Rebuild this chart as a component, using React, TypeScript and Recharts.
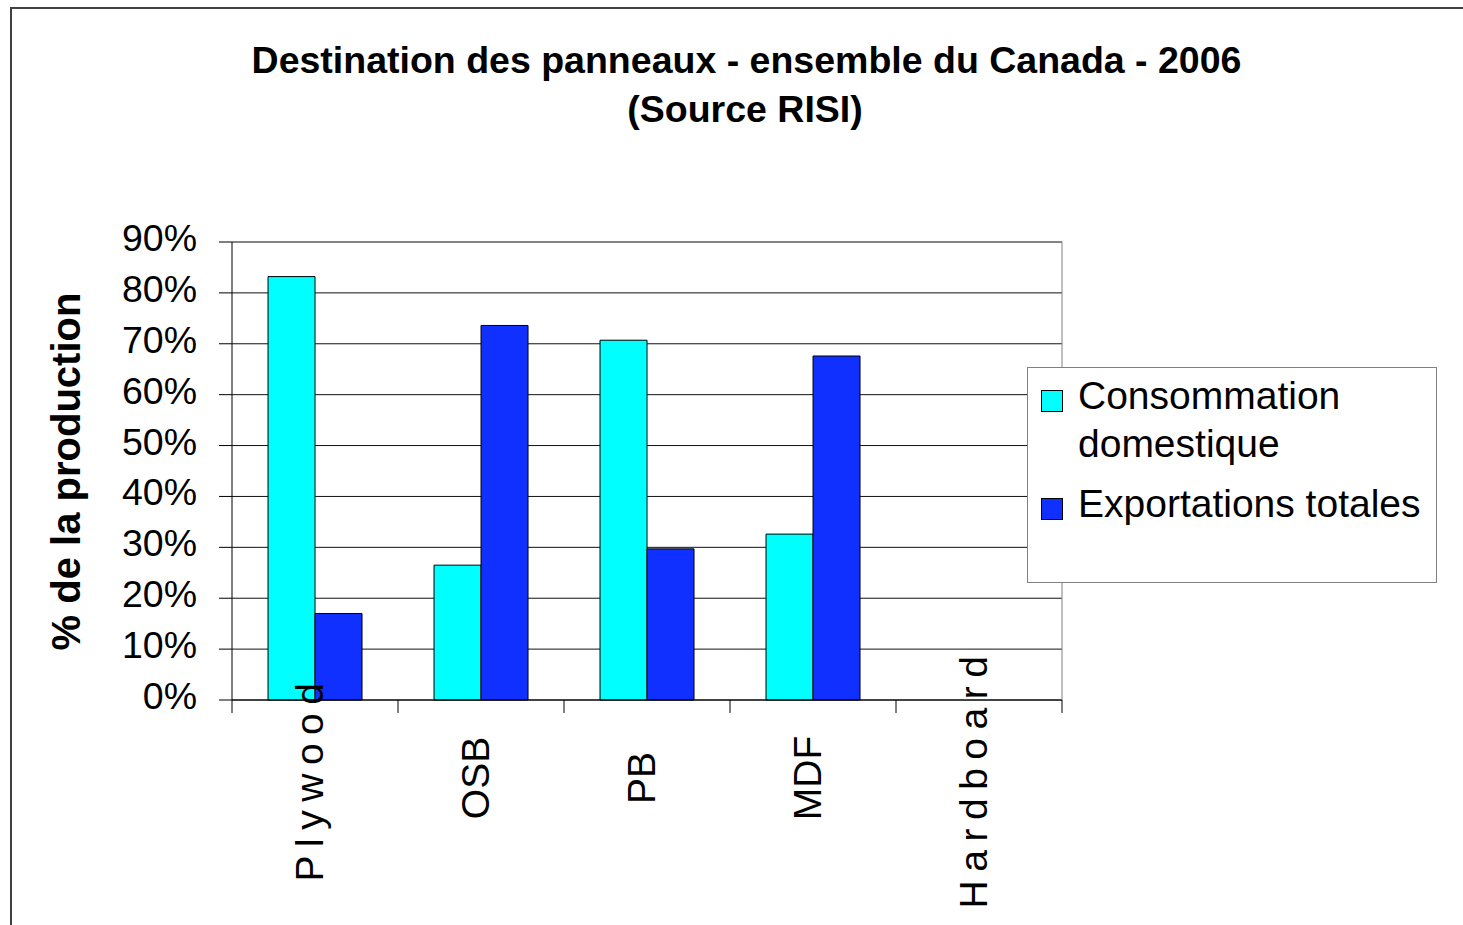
import { BarChart, Bar, XAxis, YAxis, CartesianGrid, Legend, ReferenceLine } from "recharts";

const FONT = "'Liberation Sans', Arial, sans-serif";

const CATEGORIES = ["Plywood", "OSB", "PB", "MDF", "Hardboard"];
const DOMESTIC = [0.832, 0.265, 0.707, 0.326, null];
const EXPORTS = [0.17, 0.736, 0.297, 0.676, null];
const SERIES = ["Consommation domestique", "Exportations totales"];
const LEGEND_LINES = [["Consommation", "domestique"], ["Exportations totales"]];
const Y_TICKS = [0, 0.1, 0.2, 0.3, 0.4, 0.5, 0.6, 0.7, 0.8, 0.9];
// labels that Excel drew with wide letter spacing
const SPACED = ["Plywood", "Hardboard"];

const data = CATEGORIES.map((c, i) => ({ name: c, dom: DOMESTIC[i], exp: EXPORTS[i] }));

const YTick = ({ x, y, payload }: any) => (
  <text x={x} y={y} dy={9} textAnchor="end" fontSize={37.5} fill="#000" fontFamily={FONT}>
    {Math.round(payload.value * 100)}%
  </text>
);

// category label + tick marks on the category boundaries (Excel style)
const XTick = ({ x, y, payload, index }: any) => {
  const half = payload.offset || 83;
  const last = index === CATEGORIES.length - 1;
  return (
    <g>
      <line x1={x - half} x2={x - half} y1={y} y2={y + 13} stroke="#000" />
      {last && <line x1={x + half} x2={x + half} y1={y} y2={y + 13} stroke="#000" />}
      <text
        transform={`translate(${x + 8}, ${y + 78}) rotate(-90)`}
        textAnchor="middle"
        fontSize={39}
        fill="#000"
        fontFamily={FONT}
        letterSpacing={SPACED.includes(payload.value) ? 8.5 : 0}
      >
        {payload.value}
      </text>
    </g>
  );
};

const LegendBox = ({ payload }: any) => {
  const items = payload || [];
  return (
    <svg width={410} height={216} style={{ display: "block", fontFamily: FONT }}>
      <rect x={0.5} y={0.5} width={409} height={215} fill="#fff" stroke="#808080" />
      {items.map((p: any, i: number) => {
        const top = i === 0 ? 23 : 131;
        const lines = LEGEND_LINES[i] || [p.value];
        return (
          <g key={i}>
            <rect x={14.5} y={top + 0.5} width={21} height={21} fill={p.color} stroke="#000" />
            {lines.map((l: string, j: number) => (
              <text key={j} x={51} y={top + 19 + j * 48} fontSize={39} fill="#000">{l}</text>
            ))}
          </g>
        );
      })}
    </svg>
  );
};

export default function App() {
  return (
    <div style={{ position: "absolute", left: 0, top: 0, width: 1463, height: 925, background: "#fff", overflow: "hidden" }}>
      <div style={{ position: "absolute", left: 10, top: 7, width: 1470, height: 930, borderLeft: "2px solid #404040", borderTop: "2px solid #404040" }} />
      <BarChart
        width={1463}
        height={925}
        data={data}
        margin={{ top: 242, right: 400, bottom: 224, left: 231 }}
        barCategoryGap="21.7%"
        barGap={0}
        style={{ position: "absolute", left: 0, top: 0 }}
      >
        <CartesianGrid vertical={false} stroke="#111" />
        <ReferenceLine y={0.9} stroke="#808080" />
        <XAxis
          dataKey="name"
          height={1}
          tickLine={false}
          tickSize={0}
          tickMargin={0}
          axisLine={{ stroke: "#000" }}
          tick={<XTick />}
          interval={0}
        />
        <YAxis
          width={1}
          domain={[0, 0.9]}
          ticks={Y_TICKS}
          tickSize={13}
          tickMargin={22}
          axisLine={{ stroke: "#000" }}
          tickLine={{ stroke: "#000" }}
          tick={<YTick />}
          interval={0}
        />
        <YAxis
          yAxisId="right"
          orientation="right"
          width={1}
          tick={false}
          tickLine={false}
          axisLine={{ stroke: "#808080" }}
        />
        <Bar dataKey="dom" name={SERIES[0]} fill="#00FFFF" stroke="#000" strokeWidth={1} isAnimationActive={false} />
        <Bar dataKey="exp" name={SERIES[1]} fill="#1030FF" stroke="#000" strokeWidth={1} isAnimationActive={false} />
        <Legend
          layout="vertical"
          align="center"
          verticalAlign="middle"
          content={<LegendBox />}
          wrapperStyle={{ position: "absolute", left: 1027, top: 367, width: 410, height: 216 }}
        />
      </BarChart>
      <svg width={1463} height={925} style={{ position: "absolute", left: 0, top: 0, pointerEvents: "none", fontFamily: FONT }}>
        <text x={746.5} y={73} textAnchor="middle" fontSize={37.5} fontWeight="bold" fill="#000">
          Destination des panneaux - ensemble du Canada - 2006
        </text>
        <text x={745} y={122} textAnchor="middle" fontSize={37.5} fontWeight="bold" fill="#000">
          (Source RISI)
        </text>
        <text transform="translate(80, 471.5) rotate(-90)" textAnchor="middle" fontSize={40} fontWeight="bold" fill="#000">
          % de la production
        </text>
      </svg>
    </div>
  );
}
